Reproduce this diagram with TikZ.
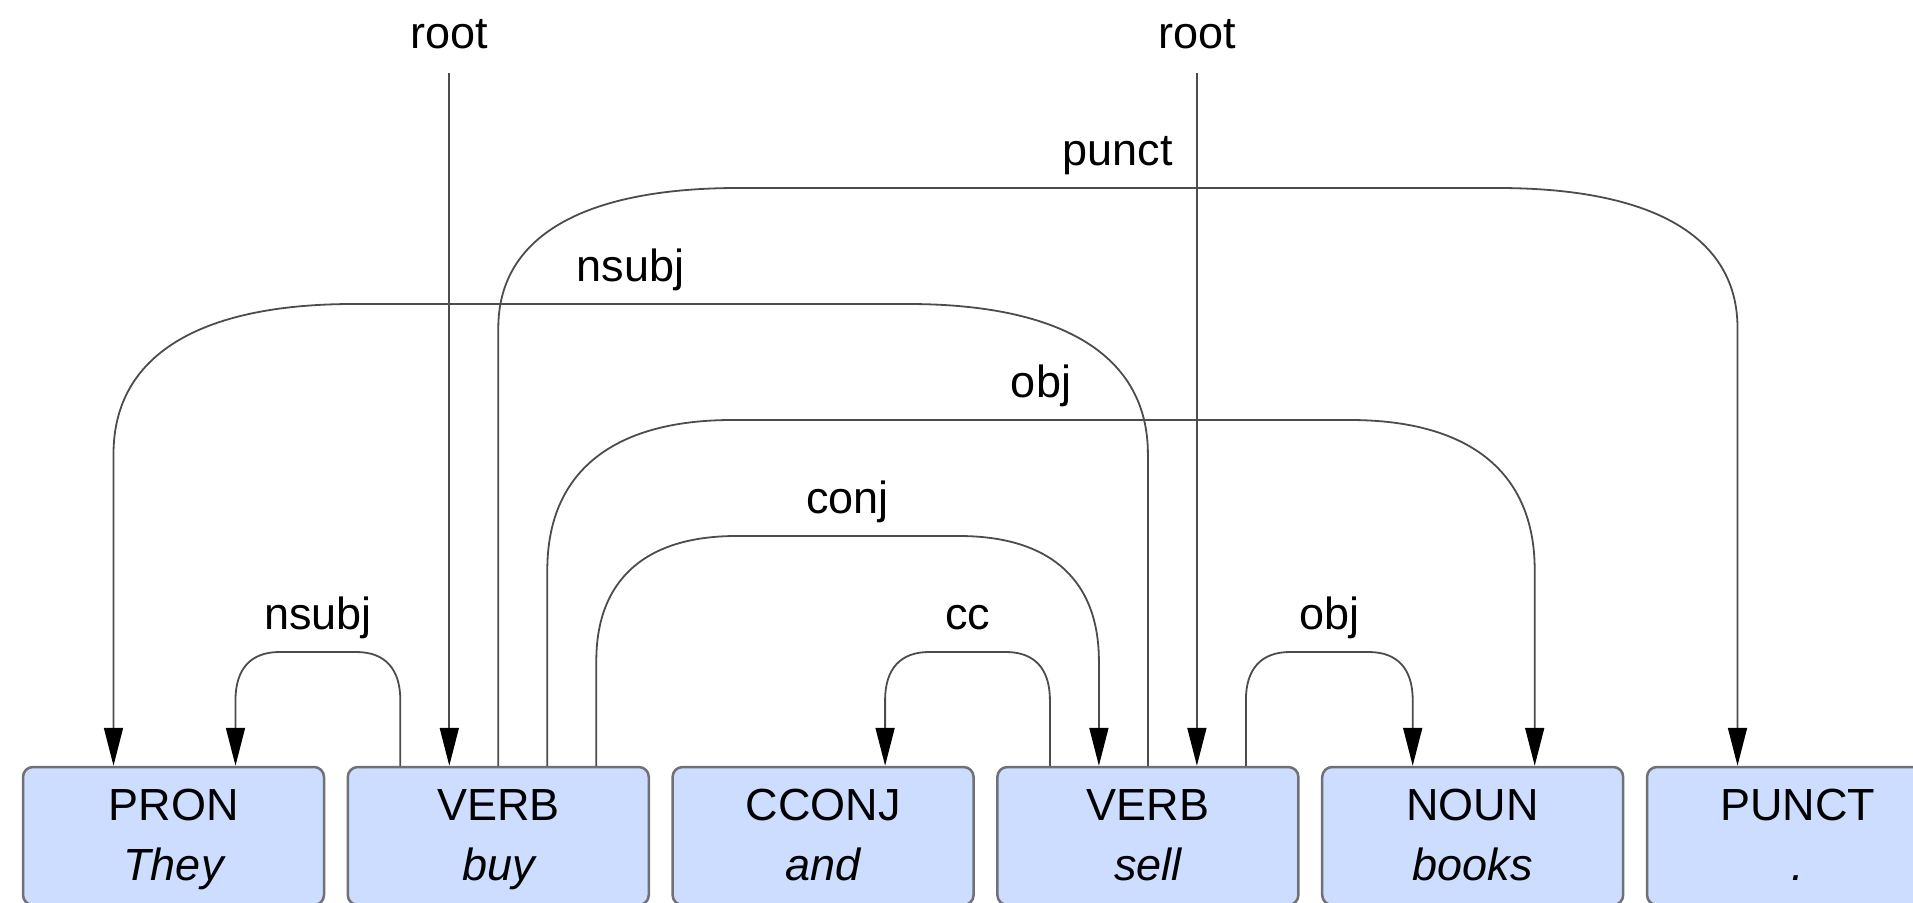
\documentclass[tikz,border=0pt]{standalone}
\usepackage{fontspec}
\setmainfont{Liberation Sans}
\usepackage{tikz}
\usetikzlibrary{arrows.meta,calc}
\definecolor{tokblue}{RGB}{204,221,255}
\definecolor{tokedge}{RGB}{112,112,118}

% dependency arc: from, to, top y, corner width (signed), corner height, label, label name
\newcommand{\deparc}[7]{%
  \draw[dep] (#1) -- (#1 |- 0,{#3+#5})
    .. controls +(0,{-0.65*#5}) and +({-0.65*#4},0) .. ($(#1 |- 0,#3)+(#4,0)$)
    -- ($(#2 |- 0,#3)-(#4,0)$)
    .. controls +({0.65*#4},0) and +(0,{-0.65*#5}) .. (#2 |- 0,{#3+#5})
    -- (#2);
  \node[deplab] (#7) at ($(#1 |- 0,#3)!0.5!(#2 |- 0,#3)$) {#6};
}

\tikzset{
  tok/.style={draw=tokedge, fill=tokblue, line width=2.5pt, rounded corners=10pt,
    minimum width=301pt, minimum height=138pt, inner sep=0pt},
  toktext/.style={anchor=base, inner sep=0pt},
  dep/.style={draw=black!70, line width=1.8pt, -{Triangle[length=38pt,width=19pt,black]}},
  deplab/.style={anchor=base, yshift=23pt, inner sep=0pt},
}

\begin{document}
\begin{tikzpicture}[x=1pt, y=-1pt, font=\fontsize{45}{54}\selectfont]
    \useasboundingbox (0,0) rectangle (1913,902);

    % Token boxes
    \foreach \tag/\word/\name [count=\i] in {PRON/They/pron, VERB/buy/buy, CCONJ/and/cconj,
        VERB/sell/sell, NOUN/books/noun, PUNCT/./punct} {
      \node[tok] (\name) at ({173.5+324.8*(\i-1)},836) {};
      \node[toktext] (\name-tag) at ($(\name.north)+(0,55)$) {\tag};
      \node[toktext] (\name-word) at ($(\name.north)+(0,115)$) {\itshape\word};
    }

    % Attachment points on the box tops
    \foreach \name in {buy,sell}
      \foreach \k/\off in {1/-98,2/-49,3/0,4/49,5/98}
        \coordinate (\name\k) at ($(\name.north)+(\off,0)$);
    \foreach \name in {pron,noun} {
      \coordinate (\name1) at ($(\name.north)+(-60,0)$);
      \coordinate (\name2) at ($(\name.north)+(62,0)$);
    }
    \coordinate (cconj1) at ($(cconj.north)+(62,0)$);
    \coordinate (punct1) at ($(punct.north)+(-60,0)$);

    % Arcs
    \deparc{buy1}{pron2}{652}{-44}{48}{nsubj}{nsubj-short}
    \deparc{sell1}{cconj1}{652}{-44}{48}{cc}{cc-lab}
    \deparc{sell5}{noun1}{652}{44}{48}{obj}{obj-short}
    \deparc{buy5}{sell2}{536}{140}{125}{conj}{conj-lab}
    \deparc{buy4}{noun2}{420}{185}{150}{obj}{obj-long}
    \deparc{sell3}{pron1}{304}{-240}{150}{nsubj}{nsubj-long}
    \deparc{buy3}{punct1}{188}{240}{140}{punct}{punct-lab}

    % Roots
    \node[toktext] (root1) at (buy2 |- 0,48) {root};
    \draw[dep] ([yshift=-25pt]root1.base) -- (buy2);
    \node[toktext] (root2) at (sell4 |- 0,48) {root};
    \draw[dep] ([yshift=-25pt]root2.base) -- (sell4);
\end{tikzpicture}
\end{document}
